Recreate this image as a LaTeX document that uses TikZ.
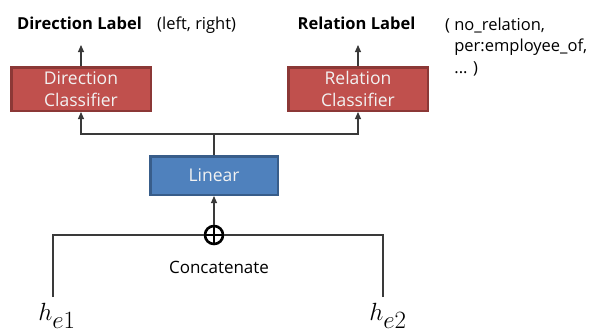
\documentclass[tikz,border=0pt]{standalone}
\usepackage{fontspec}
\setmainfont{Open Sans}
\usetikzlibrary{arrows.meta}
\definecolor{redfill}{HTML}{C0504D}
\definecolor{redline}{HTML}{8C3836}
\definecolor{bluefill}{HTML}{4F81BD}
\definecolor{blueline}{HTML}{385D8A}
\definecolor{boxtext}{HTML}{F2F2F2}
\definecolor{wire}{HTML}{3A3A3A}
\begin{document}
\begin{tikzpicture}[x=1pt,y=1pt,
  redbox/.style={draw=redline, fill=redfill, line width=2.5pt, minimum width=139.5pt, minimum height=43.5pt,
    text=boxtext, align=center, font=\fontsize{17.5}{22}\selectfont, inner sep=0pt},
  bluebox/.style={draw=blueline, fill=bluefill, line width=2.5pt, minimum width=127.5pt, minimum height=38.5pt,
    text=boxtext, font=\fontsize{17.5}{20}\selectfont, inner sep=0pt},
  wireline/.style={draw=wire, line width=1.1pt},
  arr/.style={wireline, -{Triangle[length=7pt,width=6pt]}},
  lab/.style={font=\fontsize{16.5}{20}\selectfont, inner sep=0pt},
  blab/.style={font=\bfseries\fontsize{16.5}{20}\selectfont, inner sep=0pt},
  catsym/.style={circle, draw=black, line width=2.6pt, minimum size=18pt, inner sep=0pt,
    path picture={\draw[black, line width=2.6pt] (path picture bounding box.north) -- (path picture bounding box.south)
      (path picture bounding box.west) -- (path picture bounding box.east);}},
]
\useasboundingbox (0,0) rectangle (598,333);

% boxes
\node[redbox] (dc) at (81,244) {Direction\\Classifier};
\node[redbox] (rc) at (358,244) {Relation\\Classifier};
\node[bluebox] (lin) at (214,157.5) {Linear};
\node[catsym] (cat) at (214,98) {};
\node[lab, font=\fontsize{17}{20}\selectfont] (catlab) at (219,66) {Concatenate};

% labels on top
\node[blab, anchor=base] (dl) at (79.5,304) {Direction Label};
\node[lab, anchor=base west] (dlv) at (157,304) {(left, right)};
\node[blab, anchor=base] (rl) at (356.5,304) {Relation Label};
\node[lab, anchor=base west] (rlv1) at (445,302) {( no\_relation,};
\node[lab, anchor=base west] (rlv2) at (445,281) {\hphantom{( }per:employee\_of,};
\node[lab, anchor=base west] (rlv3) at (445,260) {\hphantom{( }... )};

% inputs
\node[inner sep=0pt] (h1) at (57,17) {\fontsize{35}{36}\selectfont$h_{e1}$};
\node[inner sep=0pt] (h2) at (388,17) {\fontsize{35}{36}\selectfont$h_{e2}$};

\coordinate (dtop) at (81,288);
\coordinate (rtop) at (358,288);
\coordinate (branch) at (214,199);
\coordinate (l1) at (53,98);
\coordinate (l2) at (53,36);
\coordinate (r1) at (383,98);
\coordinate (r2) at (383,36);

% connectors
\draw[arr] (dc.north) -- (dtop);
\draw[arr] (rc.north) -- (rtop);
\draw[wireline] (lin.north) -- (branch);
\draw[arr] (branch) -| (dc.south);
\draw[arr] (branch) -| (rc.south);
\draw[arr] (cat.north) -- (lin.south);
\draw[wireline] (l2) -- (l1) -- (cat.west);
\draw[wireline] (r2) -- (r1) -- (cat.east);
\end{tikzpicture}
\end{document}
